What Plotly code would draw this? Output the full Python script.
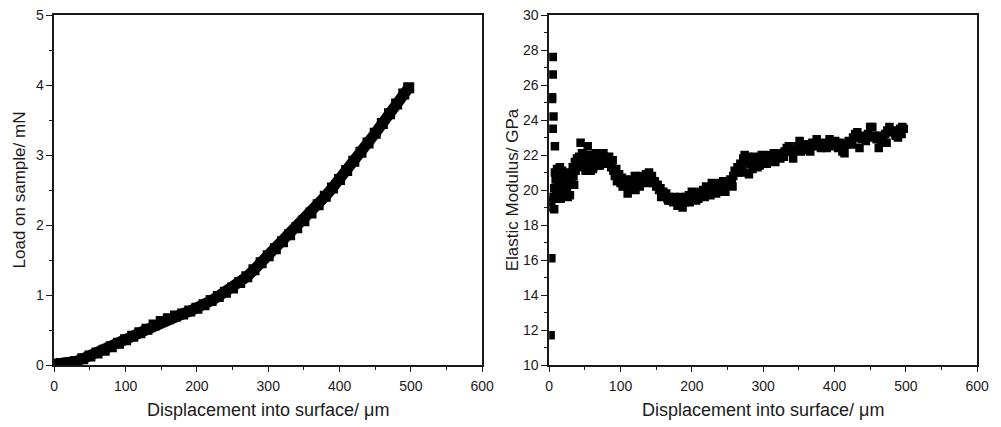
import plotly.graph_objects as go

# Left panel: load-displacement curve
load_x = [0, 10, 20, 30, 40, 50, 60, 70, 80, 90, 100, 110, 120, 130, 140, 150, 160, 170, 180, 190,
          200, 210, 220, 230, 240, 250, 260, 270, 280, 290, 300, 310, 320, 330, 340, 350, 360, 370,
          380, 390, 400, 410, 420, 430, 440, 450, 460, 470, 480, 490, 497]
load_y = [0.01, 0.02, 0.03, 0.05, 0.09, 0.13, 0.17, 0.21, 0.26, 0.31, 0.36, 0.41, 0.46, 0.51, 0.57,
          0.62, 0.66, 0.70, 0.73, 0.77, 0.81, 0.86, 0.92, 0.98, 1.04, 1.10, 1.18, 1.26, 1.36, 1.46,
          1.56, 1.66, 1.76, 1.86, 1.96, 2.06, 2.17, 2.29, 2.41, 2.53, 2.65, 2.78, 2.91, 3.04, 3.17,
          3.31, 3.45, 3.59, 3.73, 3.87, 3.96]

# Right panel: elastic modulus vs displacement
mod_x = [2, 3, 2, 3, 4, 4, 5, 5, 6, 5, 8, 7, 6, 7, 8, 9, 10, 11, 12, 13, 14, 15, 16, 17, 18, 19, 20,
         21, 22, 23, 24, 25, 26, 27, 28, 30, 31, 33, 34, 36, 37, 39, 40, 42, 44, 45, 47, 48, 50, 52,
         54, 55, 57, 58, 60, 62, 63, 65, 67, 68, 70, 72, 74, 75, 77, 79, 81, 83, 85, 87, 89, 90, 92,
         94, 96, 98, 100, 102, 104, 106, 108, 110, 112, 114, 116, 118, 120, 122, 124, 126, 128, 130,
         132, 134, 136, 138, 140, 142, 144, 146, 148, 150, 152, 154, 156, 158, 160, 162, 164, 166,
         168, 170, 172, 174, 176, 178, 180, 182, 184, 186, 188, 190, 192, 194, 196, 198, 200, 202,
         204, 206, 208, 210, 212, 214, 216, 218, 220, 222, 224, 226, 228, 230, 232, 234, 236, 238,
         240, 242, 244, 246, 248, 250, 252, 254, 256, 258, 260, 262, 264, 266, 268, 270, 272, 274,
         276, 278, 280, 282, 284, 286, 288, 290, 292, 294, 296, 298, 300, 303, 306, 309, 312, 315,
         318, 321, 324, 327, 330, 333, 336, 339, 342, 345, 348, 351, 354, 357, 360, 363, 366, 369,
         372, 375, 378, 381, 384, 387, 390, 393, 396, 399, 402, 405, 408, 411, 414, 417, 420, 423,
         426, 429, 432, 435, 438, 441, 444, 447, 450, 453, 456, 459, 462, 465, 468, 471, 474, 477,
         480, 483, 486, 489, 492, 495, 497,
         # extra scattered readings that widen the band
         16, 24, 29, 35, 46, 51, 56, 61, 66, 71, 76, 84, 95, 103, 109, 121, 127, 137, 143, 157,
         167, 187, 197, 209, 221, 233, 247, 257, 265, 273, 285, 295, 305, 317, 329, 341, 353,
         365, 377, 389, 401, 413, 425, 437, 449, 461, 473, 485, 494]
mod_y = [11.7, 16.1, 19.4, 19.0, 25.3, 25.2, 27.6, 26.6, 24.2, 23.5, 22.5, 18.9, 19.6, 20.1, 21.0,
         20.6, 19.8, 21.2, 20.3, 19.5, 20.8, 21.3, 20.0, 20.6, 21.1, 19.8, 20.4, 20.9, 19.9, 20.5,
         21.0, 20.2, 19.6, 20.7, 20.3, 20.9, 20.5, 21.3, 20.8, 21.6, 21.1, 21.8, 21.4, 21.9, 22.7,
         21.6, 22.1, 21.3, 21.8, 21.2, 22.5, 21.6, 22.0, 21.1, 21.7, 21.3, 22.0, 21.5, 21.9, 21.4,
         22.0, 21.6, 21.8, 21.5, 21.9, 21.6, 21.7, 21.5, 21.6, 21.3, 21.7, 21.1, 20.8, 21.2, 20.6,
         20.9, 20.4, 20.7, 20.3, 20.6, 20.2, 19.8, 20.5, 20.1, 20.6, 20.3, 20.8, 20.2, 20.6, 20.4,
         20.8, 20.5, 20.7, 20.6, 20.9, 20.7, 21.0, 20.6, 20.8, 20.4, 20.5, 20.2, 20.3, 20.0, 20.1,
         19.8, 19.9, 19.7, 19.8, 19.5, 19.6, 19.4, 19.5, 19.3, 19.6, 19.4, 19.1, 19.3, 19.6, 19.2,
         19.5, 19.3, 19.6, 19.4, 19.7, 19.5, 19.9, 19.5, 19.7, 19.4, 19.8, 19.6, 19.9, 19.7, 20.0,
         19.6, 20.2, 19.8, 20.1, 19.7, 20.4, 19.9, 20.2, 19.8, 20.3, 19.9, 20.4, 20.1, 20.5, 20.2,
         20.4, 20.5, 20.3, 20.6, 20.4, 20.8, 21.1, 21.0, 21.3, 21.2, 21.5, 21.3, 21.8, 22.0, 21.6,
         21.9, 20.9, 21.5, 21.8, 21.6, 21.9, 21.7, 21.3, 21.8, 21.6, 22.0, 21.8, 21.9, 21.7, 22.0,
         21.8, 22.1, 21.9, 22.0, 21.8, 22.1, 22.2, 22.4, 22.5, 22.3, 21.8, 22.3, 22.5, 22.8, 22.4,
         22.6, 22.3, 22.6, 22.2, 22.7, 22.5, 22.9, 22.6, 22.4, 22.7, 22.5, 22.6, 22.9, 22.7, 22.5,
         22.6, 22.4, 22.7, 22.2, 22.1, 22.6, 22.8, 22.7, 23.0, 23.2, 23.3, 22.4, 22.9, 23.1, 22.8,
         23.2, 23.6, 23.6, 23.1, 22.9, 22.4, 22.8, 23.0, 23.2, 23.4, 23.6, 23.3, 23.4, 23.1, 23.0,
         23.5, 23.6, 23.5,
         19.5, 19.8, 19.7, 20.3, 22.1, 21.1, 21.3, 21.2, 22.1, 21.4, 22.1, 21.9, 20.5, 20.2, 20.5,
         20.0, 20.2, 20.4, 20.5, 19.6, 19.4, 19.0, 19.3, 19.5, 19.8, 20.1, 19.9, 20.2, 21.0, 21.0,
         21.2, 21.4, 21.5, 21.6, 21.9, 22.2, 22.2, 22.4, 22.6, 22.4, 22.8, 22.5, 22.6, 23.0, 23.0,
         23.1, 22.7, 23.2, 23.2]

x_title = "Displacement into surface/ μm"
left_y_title = "Load on sample/ mN"
right_y_title = "Elastic Modulus/ GPa"

FONT = "Liberation Sans, Arial, sans-serif"
INK = "#1a1a1a"

fig = go.Figure()
fig.add_trace(go.Scatter(
    x=load_x, y=load_y, mode="lines+markers", xaxis="x", yaxis="y",
    line=dict(color="black", width=11),
    marker=dict(symbol="square", size=11, color="black"),
    showlegend=False, cliponaxis=True,
))
fig.add_trace(go.Scatter(
    x=mod_x, y=mod_y, mode="markers", xaxis="x2", yaxis="y2",
    marker=dict(symbol="square", size=8.5, color="black", line=dict(width=0)),
    showlegend=False, cliponaxis=True,
))

def xax(domain, anchor):
    return dict(
        domain=domain, anchor=anchor, range=[0, 600], dtick=100, tick0=0,
        ticks="outside", ticklen=5, tickwidth=1.2, tickcolor=INK,
        minor=dict(ticks="outside", ticklen=3, dtick=50, tickcolor=INK, tickwidth=1.2),
        showline=True, linecolor=INK, linewidth=1.5, mirror=True,
        showgrid=False, zeroline=False, ticklabelstandoff=2,
        tickfont=dict(family=FONT, size=14, color=INK),
        title=dict(text=x_title, font=dict(family=FONT, size=18, color=INK), standoff=11),
    )

def yax(domain_anchor, rng, dtick, minor_dtick, title, standoff):
    return dict(
        domain=[0, 1], anchor=domain_anchor, range=rng, dtick=dtick, tick0=rng[0],
        ticks="outside", ticklen=6, tickwidth=1.2, tickcolor=INK,
        minor=dict(ticks="outside", ticklen=3, dtick=minor_dtick, tickcolor=INK, tickwidth=1.2),
        showline=True, linecolor=INK, linewidth=1.5, mirror=True,
        showgrid=False, zeroline=False,
        tickfont=dict(family=FONT, size=14, color=INK),
        title=dict(text=title, font=dict(family=FONT, size=17, color=INK), standoff=standoff),
    )

fig.update_layout(
    width=1001, height=427,
    margin=dict(l=0, r=0, t=15, b=62),
    paper_bgcolor="white", plot_bgcolor="white",
    xaxis=xax([0.051, 0.4855], "y"),
    yaxis=yax("x", [0, 5], 1, 0.5, left_y_title, 6),
    xaxis2=xax([0.5535, 0.988], "y2"),
    yaxis2=yax("x2", [10, 30], 2, 1, right_y_title, 0),
)

fig.write_html("out.html")
